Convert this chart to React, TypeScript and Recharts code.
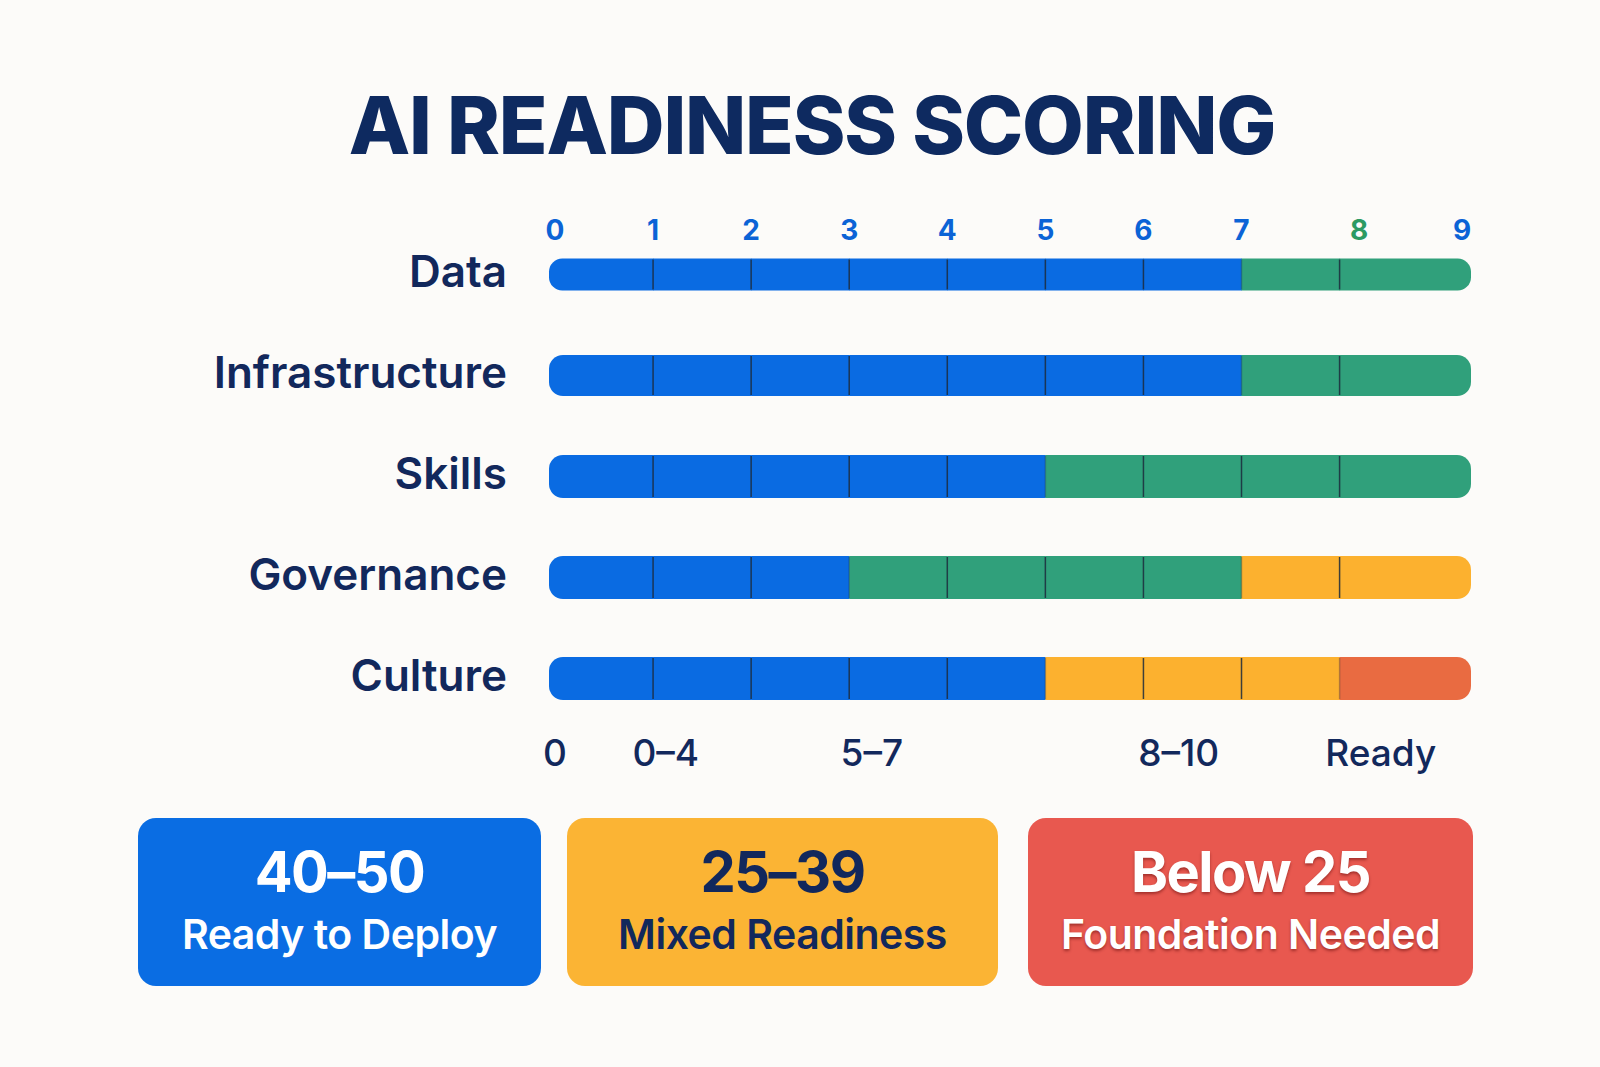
import React from 'react';
import { BarChart, Bar, XAxis, YAxis } from 'recharts';

const categories = ['Data', 'Infrastructure', 'Skills', 'Governance', 'Culture'];

// width of each scoring step along the bar (last step is cut short in the picture)
const segmentWidths = [1, 1, 1, 1, 1, 1, 1, 1, 1.34];

// band of every step per row: 0 = blue, 1 = green, 2 = amber, 3 = red
const rowBands = [
  [0, 0, 0, 0, 0, 0, 0, 1, 1],
  [0, 0, 0, 0, 0, 0, 0, 1, 1],
  [0, 0, 0, 0, 0, 1, 1, 1, 1],
  [0, 0, 0, 1, 1, 1, 1, 2, 2],
  [0, 0, 0, 0, 0, 2, 2, 2, 3],
];

const topTicks = [0, 1, 2, 3, 4, 5, 6, 7, 8.2, 9.25];
const topTickLabels = ['0', '1', '2', '3', '4', '5', '6', '7', '8', '9'];

const bottomTicks = [0, 1.13, 3.23, 6.36, 8.42];
const bottomTickLabels = ['0', '0–4', '5–7', '8–10', 'Ready'];

const tierRanges = ['40–50', '25–39', 'Below 25'];
const tierNames = ['Ready to Deploy', 'Mixed Readiness', 'Foundation Needed'];

const bandColors = ['#0a6be2', '#30a07b', '#fcb12f', '#e96b41'];
const rowThickness = [32, 41, 43, 43, 43];
const NAVY = '#12285c';
const FONT = 'Inter, "Noto Sans", sans-serif';
const MAX = 9.34;

const rows = categories.map((name) => {
  const row: Record<string, any> = { name };
  segmentWidths.forEach((w, i) => (row[`s${i}`] = w));
  return row;
});

function segPath(x: number, y: number, w: number, h: number, rl: number, rr: number) {
  return [
    `M${x + rl},${y}`,
    `H${x + w - rr}`,
    rr ? `A${rr},${rr} 0 0 1 ${x + w},${y + rr}` : '',
    `V${y + h - rr}`,
    rr ? `A${rr},${rr} 0 0 1 ${x + w - rr},${y + h}` : '',
    `H${x + rl}`,
    rl ? `A${rl},${rl} 0 0 1 ${x},${y + h - rl}` : '',
    `V${y + rl}`,
    rl ? `A${rl},${rl} 0 0 1 ${x + rl},${y}` : '',
    'Z',
  ].join(' ');
}

const renderSegment = (seg: number) => (props: any) => {
  const { x, y, width, height, index } = props;
  const h = rowThickness[index] ?? height;
  const top = y + (height - h) / 2;
  const band = rowBands[index][seg];
  const r = Math.min(14, h / 2.4);
  const rl = seg === 0 ? r : 0;
  const rr = seg === segmentWidths.length - 1 ? r : 0;
  const sameAsPrev = seg > 0 && rowBands[index][seg - 1] === band;
  // rounded cap on the left sits a little outside the zero line
  const lead = seg === 0 ? 6 : 0;
  return (
    <g>
      <path d={segPath(x - lead, top, width + lead + (rr ? 0 : 0.5), h, rl, rr)} fill={bandColors[band]} />
      {seg > 0 && (
        <line
          x1={x}
          x2={x}
          y1={top + 1}
          y2={top + h - 1}
          stroke="#1b2a3c"
          strokeWidth={1.5}
          strokeOpacity={sameAsPrev ? 0.85 : 0.3}
        />
      )}
    </g>
  );
};

const TopTick = (props: any) => {
  const { x, y, index } = props;
  const label = topTickLabels[index];
  const fill = index === 8 ? '#2c9a62' : '#0b63d6';
  return (
    <text x={x} y={y + 6} textAnchor="middle" dominantBaseline="central" fill={fill} fontFamily={FONT} fontWeight={700} fontSize={28}>
      {label}
    </text>
  );
};

const BottomTick = (props: any) => {
  const { x, y, index } = props;
  return (
    <text x={x} y={y + 23} textAnchor="middle" dominantBaseline="central" fill={NAVY} fontFamily={FONT} fontWeight={500} fontSize={37}>
      {bottomTickLabels[index]}
    </text>
  );
};

const CategoryTick = (props: any) => {
  const { x, y, payload } = props;
  return (
    <text x={x - 48} y={y - 4} textAnchor="end" dominantBaseline="central" fill={NAVY} fontFamily={FONT} fontWeight={600} fontSize={44}>
      {payload.value}
    </text>
  );
};

const boxes = [
  { left: 138, width: 403, bg: '#0a6de3', color: '#ffffff', shadow: 'none' },
  { left: 567, width: 431, bg: '#fbb434', color: NAVY, shadow: 'none' },
  { left: 1028, width: 445, bg: '#e8584f', color: '#ffffff', shadow: '0 2px 3px rgba(80,0,0,0.45)' },
];

export default function App() {
  return (
    <div style={{ position: 'absolute', left: 0, top: 0, width: 1600, height: 1067, background: '#fcfbf9', overflow: 'hidden', fontFamily: FONT }}>
      <div
        style={{
          position: 'absolute',
          left: 12,
          top: 84,
          width: 1600,
          textAlign: 'center',
          fontSize: 80,
          lineHeight: '82px',
          fontWeight: 800,
          letterSpacing: -1.2,
          color: '#0e2a60',
        }}
      >
        AI READINESS SCORING
      </div>
      <div style={{ position: 'absolute', left: 0, top: 0 }}>
        <BarChart
          width={1600}
          height={800}
          layout="vertical"
          data={rows}
          barSize={43}
          margin={{ top: 204, right: 129, bottom: 21, left: 0 }}
        >
          <XAxis
            xAxisId="top"
            orientation="top"
            type="number"
            domain={[0, MAX]}
            ticks={topTicks}
            interval={0}
            height={20}
            axisLine={false}
            tickLine={false}
            tickSize={0}
            tickMargin={0}
            tick={<TopTick />}
          />
          <XAxis
            xAxisId="bottom"
            orientation="bottom"
            type="number"
            domain={[0, MAX]}
            allowDataOverflow
            ticks={bottomTicks}
            interval={0}
            height={50}
            axisLine={false}
            tickLine={false}
            tickSize={0}
            tickMargin={0}
            tick={<BottomTick />}
          />
          <YAxis
            type="category"
            dataKey="name"
            width={555}
            axisLine={false}
            tickLine={false}
            tickSize={0}
            tickMargin={0}
            tick={<CategoryTick />}
          />
          {segmentWidths.map((_, i) => (
            <Bar
              key={i}
              dataKey={`s${i}`}
              stackId="a"
              xAxisId="top"
              isAnimationActive={false}
              shape={renderSegment(i)}
            />
          ))}
        </BarChart>
      </div>
      {boxes.map((b, i) => (
        <div
          key={i}
          style={{
            position: 'absolute',
            left: b.left,
            top: 818,
            width: b.width,
            height: 168,
            boxSizing: 'border-box',
            paddingTop: 24,
            borderRadius: 18,
            background: b.bg,
            color: b.color,
            display: 'flex',
            flexDirection: 'column',
            alignItems: 'center',
            justifyContent: 'flex-start',
            textShadow: b.shadow,
          }}
        >
          <div style={{ fontSize: 56, lineHeight: '60px', fontWeight: 700, letterSpacing: -1.5 }}>{tierRanges[i]}</div>
          <div style={{ fontSize: 41, lineHeight: '46px', fontWeight: 600, letterSpacing: -0.5, marginTop: 9 }}>{tierNames[i]}</div>
        </div>
      ))}
    </div>
  );
}
